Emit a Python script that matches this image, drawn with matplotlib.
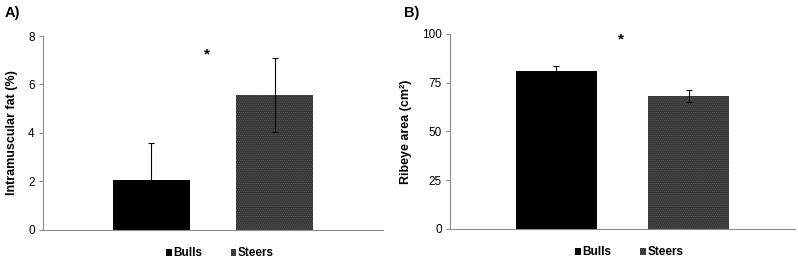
import matplotlib
matplotlib.use("Agg")
import matplotlib.pyplot as plt
import numpy as np

plt.rcParams['font.family'] = ['Liberation Sans', 'DejaVu Sans']
plt.rcParams['hatch.color'] = '#5e5e5e'
plt.rcParams['hatch.linewidth'] = 0.5

groups = ['Bulls', 'Steers']
imf_mean = [2.05, 5.58]
imf_err = [1.55, 1.53]
rea_mean = [81.0, 68.2]
rea_err = [2.5, 2.9]

fig = plt.figure(figsize=(7.98, 2.59), dpi=100)
axA = fig.add_axes([0.054, 0.112, 0.426, 0.749])
axB = fig.add_axes([0.564, 0.116, 0.432, 0.753])

def panel(ax, means, errs, width, xlim, ylim, yticks, ylabel, star_x, star_y):
    x = np.arange(len(groups))
    styles = [dict(color='black'), dict(color='#353535', hatch='........')]
    handles = []
    for i in range(len(groups)):
        b = ax.bar(x[i], means[i], width, label=groups[i], linewidth=0, **styles[i])
        handles.append(b)
        ax.errorbar(x[i], means[i], yerr=errs[i], color='black', lw=0.8,
                    capsize=2, capthick=0.8)
    ax.set_xlim(*xlim)
    ax.set_ylim(*ylim)
    ax.set_yticks(yticks)
    ax.set_xticks([])
    for s in ['top', 'right']:
        ax.spines[s].set_visible(False)
    for s in ['left', 'bottom']:
        ax.spines[s].set_color('#8c8c8c')
        ax.spines[s].set_linewidth(0.8)
    ax.tick_params(axis='y', length=3, color='#8c8c8c', labelsize=8.5, pad=3)
    ax.set_ylabel(ylabel, fontsize=9, fontweight='bold', labelpad=7)
    ax.text(star_x, star_y, '*', ha='center', va='center', fontsize=11, fontweight='bold')
    ax.legend(handles=handles, loc='upper center', bbox_to_anchor=(0.52, -0.035),
              ncol=2, frameon=False, prop={'size': 8.5, 'weight': 'bold'},
              handlelength=0.5, handleheight=0.5, handletextpad=0.12,
              columnspacing=2.4)

panel(axA, imf_mean, imf_err, 0.626, (-0.88, 1.88), (0, 8), [0, 2, 4, 6, 8],
      'Intramuscular fat (%)', 0.45, 7.25)
panel(axB, rea_mean, rea_err, 0.61, (-0.80, 1.80), (0, 100), [0, 25, 50, 75, 100],
      'Ribeye area (cm²)', 0.49, 97)

fig.text(0.006, 0.95, 'A)', fontsize=10.5, fontweight='bold', va='center')
fig.text(0.506, 0.95, 'B)', fontsize=10.5, fontweight='bold', va='center')

fig.savefig('out.png', dpi=100)
